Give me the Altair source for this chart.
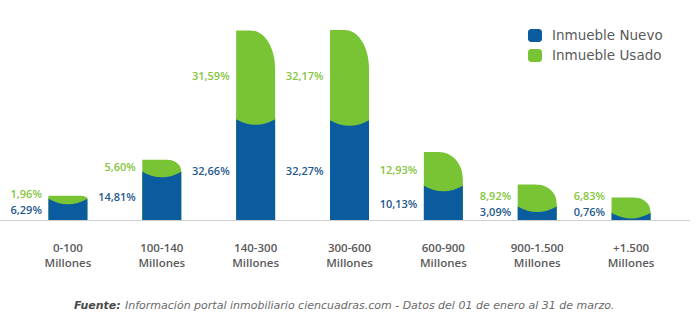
import altair as alt
import pandas as pd

categories = ["0-100", "100-140", "140-300", "300-600", "600-900", "900-1.500", "+1.500"]
nuevo = [6.29, 14.81, 32.66, 32.27, 10.13, 3.09, 0.76]
usado = [1.96, 5.60, 31.59, 32.17, 12.93, 8.92, 6.83]
series = ["Inmueble Nuevo", "Inmueble Usado"]
unit_line = "Millones"
footer_bold = "Fuente:"
footer_text = "Información portal inmobiliario ciencuadras.com  - Datos del 01 de enero al 31 de marzo."

BLUE = "#0b5c9e"
GREEN = "#78c434"
BLUE_LAB = "#1f5a8c"
GREEN_LAB = "#86c540"
GRAY = "#5a5a5a"
FONT = "Open Sans"

# layout constants (pixels)
Y0, Y1 = 220, 30          # y range of the value scale
YMAX = 64.44
PPU = (Y0 - Y1) / YMAX    # pixels per percentage unit
BAR_W = 39
S = BAR_W / 2             # symbol unit scale
K = 0.5523


def fmt(v):
    return f"{v:.2f}".replace(".", ",") + "%"


def cap_path(rx, ry):
    rxu, ryu = rx / S, ry / S
    return (f"M {1 - rxu:.4f} -0.1 L 1.1 -0.1 L 1.1 {ryu:.4f} L 1 {ryu:.4f} "
            f"C 1 {ryu * (1 - K):.4f} {1 - rxu + K * rxu:.4f} 0 {1 - rxu:.4f} 0 Z")


rows = []
caps = []
for c, n, u in zip(categories, nuevo, usado):
    g_px = u * PPU
    ry = min(38.0, 0.7 * g_px)
    rx = min(24.0, ry + 2)
    caps.append(cap_path(rx, ry))
    off = min(4.5, g_px - 3)
    edge_px = min(Y0 - n * PPU - off, Y0 - 7)
    lens_y = (Y0 - edge_px) / PPU
    blab = max(n / 2, 2.4)
    glab = max(n + u / 2, blab + 5.5)
    rows.append(dict(cat=c, nuevo=n, usado=u, total=n + u, lens=lens_y,
                     nlab=fmt(n), ulab=fmt(u), ny=blab, uy=glab,
                     unit=unit_line))
df = pd.DataFrame(rows)

xenc = alt.X("cat:N", sort=categories,
             scale=alt.Scale(domain=categories, range=[21, 678],
                             paddingInner=0, paddingOuter=0),
             axis=None)
yscale = alt.Scale(domain=[0, YMAX], range=[Y0, Y1], nice=False, zero=True)


def Y(field):
    return alt.Y(field, scale=yscale, axis=None)


base = alt.Chart(df)

green_bar = base.mark_bar(width=BAR_W, color=GREEN).encode(
    x=xenc, y=Y("total:Q"), y2=alt.datum(0))
cap = base.mark_point(size=BAR_W * BAR_W, filled=True, color="white", opacity=1,
                      strokeWidth=0).encode(
    x=xenc, y=Y("total:Q"),
    shape=alt.Shape("cat:N", scale=alt.Scale(domain=categories, range=caps),
                    legend=None))
blue_bar = base.mark_bar(width=BAR_W, color=BLUE).encode(
    x=xenc, y=Y("lens:Q"), y2=alt.datum(0))
lens = base.mark_point(shape="M -1 -0.06 L 1 -0.06 L 1 0 Q 0 0.564 -1 0 Z",
                       size=BAR_W * BAR_W, filled=True, color=GREEN, opacity=1,
                       strokeWidth=0).encode(x=xenc, y=Y("lens:Q"))

blue_txt = base.mark_text(align="right", baseline="middle", dx=-26, fontSize=11,
                          font=FONT, fontWeight=600, color=BLUE_LAB).encode(
    x=xenc, y=Y("ny:Q"), text="nlab:N")
green_txt = base.mark_text(align="right", baseline="middle", dx=-26, fontSize=11,
                           font=FONT, fontWeight=600, color=GREEN_LAB).encode(
    x=xenc, y=Y("uy:Q"), text="ulab:N")

cat1 = base.mark_text(align="center", baseline="middle", fontSize=11.5, font=FONT,
                      fontWeight=600, color=GRAY).encode(
    x=xenc, y=alt.value(249), text="cat:N")
cat2 = base.mark_text(align="center", baseline="middle", fontSize=11.5, font=FONT,
                      fontWeight=600, color=GRAY).encode(
    x=xenc, y=alt.value(264), text="unit:N")

one = pd.DataFrame({"a": [0]})
baseline = alt.Chart(one).mark_rule(color="#cfcfcf", strokeWidth=1).encode(
    x=alt.value(0), x2=alt.value(690), y=alt.value(220.5))

leg_df = pd.DataFrame({"name": series, "y1": [29, 49], "y2": [42, 62],
                       "ty": [36, 56], "col": [BLUE, GREEN]})
leg_rect = alt.Chart(leg_df).mark_rect(cornerRadius=3).encode(
    x=alt.value(528), x2=alt.value(542),
    y=alt.Y("y1:Q", scale=None), y2="y2:Q",
    color=alt.Color("col:N", scale=None))
leg_txt = alt.Chart(leg_df).mark_text(align="left", baseline="middle", fontSize=13.5,
                                      font="DejaVu Sans", color=GRAY).encode(
    x=alt.value(552), y=alt.Y("ty:Q", scale=None), text="name:N")

foot1 = alt.Chart(one).mark_text(align="left", baseline="middle", fontSize=11,
                                 font="DejaVu Sans", fontStyle="italic",
                                 fontWeight="bold", color="#4a4a4a",
                                 text=footer_bold).encode(
    x=alt.value(74), y=alt.value(306))
foot2 = alt.Chart(one).mark_text(align="left", baseline="middle", fontSize=11,
                                 font="DejaVu Sans", fontStyle="italic",
                                 color="#6a6a6a", text=footer_text).encode(
    x=alt.value(125), y=alt.value(306))

chart = alt.layer(
    green_bar, cap, blue_bar, lens, baseline, blue_txt, green_txt, cat1, cat2,
    leg_rect, leg_txt, foot1, foot2
).resolve_scale(y="independent").properties(
    width=699, height=325, autosize=alt.AutoSizeParams(type="none"),
    padding=0, background="white"
).configure_view(stroke=None)

chart.save("out.html", embed_options={"renderer": "svg", "actions": False})
